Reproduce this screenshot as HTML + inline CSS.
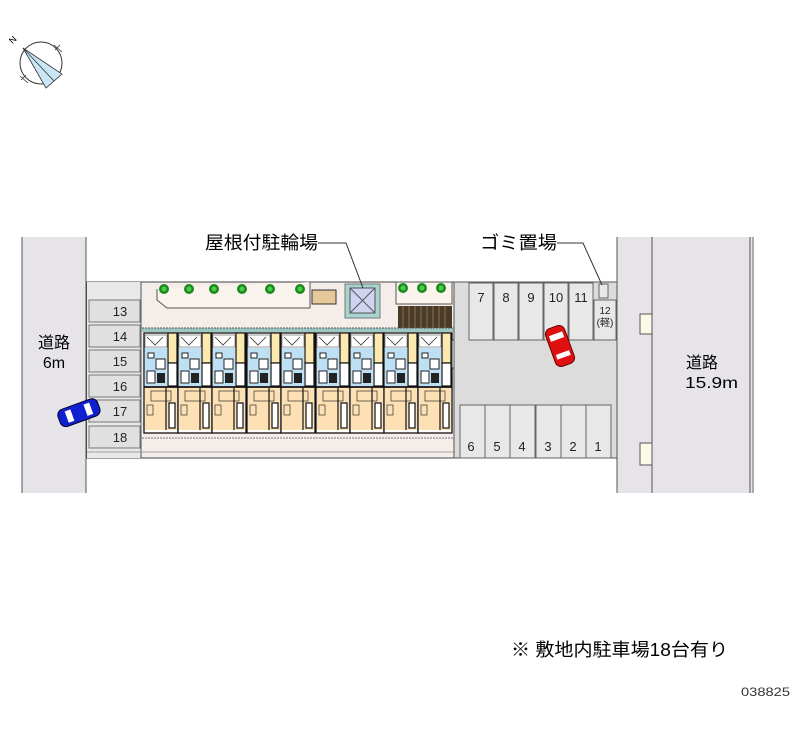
<!DOCTYPE html>
<html><head><meta charset="utf-8"><style>
html,body{margin:0;padding:0;background:#fff;}
body{width:800px;height:727px;overflow:hidden;}
text{font-family:"Liberation Sans","Noto Sans CJK JP",sans-serif;}
</style></head><body>
<svg width="800" height="727" viewBox="0 0 800 727" xmlns="http://www.w3.org/2000/svg">
<defs>
<g id="unit">
 <rect x="0" y="0" width="34" height="100" fill="#fff" stroke="#111" stroke-width="1.3"/>
 <rect x="1" y="2" width="22" height="12" fill="#fff" stroke="#555" stroke-width="0.6"/>
 <path d="M3,4 L11,12 L19,4" stroke="#333" fill="none" stroke-width="0.8"/>
 <rect x="24" y="0" width="9" height="30" fill="#fbe9b0" stroke="#111" stroke-width="1.2"/>
 <rect x="1" y="15" width="22" height="38" fill="#bde0f4"/>
 <rect x="4" y="20" width="6" height="5" fill="#fff" stroke="#222" stroke-width="1"/>
 <rect x="12" y="26" width="9" height="10" fill="#fff" stroke="#222" stroke-width="1"/>
 <rect x="3" y="38" width="8" height="12" fill="#fff" stroke="#222" stroke-width="1"/>
 <rect x="13" y="40" width="8" height="10" fill="#222"/>
 <rect x="24" y="30" width="9" height="23" fill="#fff" stroke="#111" stroke-width="1.2"/>
 <rect x="1" y="55" width="32" height="42" fill="#fde0b4"/>
 <line x1="0" y1="54" x2="34" y2="54" stroke="#111" stroke-width="1.8"/>
 <rect x="7" y="58" width="20" height="10" fill="none" stroke="#333" stroke-width="0.7"/>
 <rect x="3" y="72" width="6" height="10" fill="none" stroke="#333" stroke-width="0.7"/>
 <rect x="25" y="70" width="6" height="25" fill="#fff" stroke="#111" stroke-width="1.2"/>
 <line x1="22" y1="55" x2="22" y2="97" stroke="#111" stroke-width="1.2"/>
</g>
<g id="tree"><circle r="5" fill="#1a8a1a"/><circle r="2.5" fill="#4ccc4c"/></g>
</defs>

<!-- compass -->
<circle cx="41" cy="63" r="21" fill="#fff" stroke="#333" stroke-width="1"/>
<path d="M23,48 L62,74 L46,88 Z" fill="#c8e6f4" stroke="#333" stroke-width="0.8"/>
<line x1="23" y1="48" x2="54" y2="81" stroke="#333" stroke-width="0.8"/>
<g stroke="#333" stroke-width="0.8"><path d="M54,45 L62,52 M20,76 L28,83 M55,50 L60,45 M21,80 L26,75"/></g>
<text x="10" y="42" font-size="9" transform="rotate(-45 14 40)">N</text>

<!-- left road -->
<rect x="22" y="237" width="64" height="256" fill="#e6e4e8"/>
<line x1="22" y1="237" x2="22" y2="493" stroke="#555" stroke-width="1"/>
<line x1="86" y1="237" x2="86" y2="493" stroke="#555" stroke-width="1"/>
<text x="54" y="348" font-size="16" text-anchor="middle">道路</text>
<text x="54" y="368" font-size="16" text-anchor="middle">6m</text>

<!-- right road -->
<rect x="617" y="237" width="135" height="256" fill="#e6e4e8"/>
<line x1="617" y1="237" x2="617" y2="493" stroke="#555"/>
<line x1="652" y1="237" x2="652" y2="493" stroke="#555"/>
<line x1="750" y1="237" x2="750" y2="493" stroke="#555"/>
<line x1="753" y1="237" x2="753" y2="493" stroke="#555"/>
<rect x="640" y="314" width="12" height="20" fill="#fafae8" stroke="#555"/>
<rect x="640" y="443" width="12" height="22" fill="#fafae8" stroke="#555"/>
<text x="702" y="368" font-size="16" text-anchor="middle">道路</text>
<text x="685" y="388" font-size="16" textLength="53" lengthAdjust="spacingAndGlyphs">15.9m</text>

<!-- site -->
<rect x="87" y="282" width="530" height="176" fill="#f5ede9" stroke="#444" stroke-width="1"/>
<rect x="87" y="282" width="54" height="176" fill="#e8e8e8"/>
<g fill="#e0e0e0" stroke="#777" stroke-width="1">
<rect x="89" y="300" width="51" height="22"/><rect x="89" y="325" width="51" height="22"/>
<rect x="89" y="350" width="51" height="22"/><rect x="89" y="375" width="51" height="22"/>
<rect x="89" y="400" width="51" height="22"/><rect x="89" y="426" width="51" height="22"/>
</g>
<g font-size="13" fill="#222" text-anchor="middle">
<text x="120" y="316">13</text><text x="120" y="341">14</text><text x="120" y="366">15</text>
<text x="120" y="391">16</text><text x="120" y="416">17</text><text x="120" y="442">18</text>
</g>
<line x1="141" y1="282" x2="141" y2="458" stroke="#555"/>
<line x1="87" y1="452" x2="617" y2="452" stroke="#888" stroke-width="0.8"/>

<!-- top planting / bike -->
<path d="M157,289 L157,300 L167,308 L310,308 L310,282" fill="#fbf4ee" stroke="#555"/>
<use href="#tree" x="164" y="289"/><use href="#tree" x="189" y="289"/><use href="#tree" x="214" y="289"/>
<use href="#tree" x="242" y="289"/><use href="#tree" x="270" y="289"/><use href="#tree" x="300" y="289"/>
<rect x="312" y="290" width="24" height="14" fill="#e6c89a" stroke="#333"/>
<rect x="345" y="284" width="35" height="34" fill="#a8d4d0" stroke="#777"/>
<rect x="350" y="288" width="25" height="25" fill="#d0d4f0" stroke="#555"/>
<path d="M350,288 L375,313 M375,288 L350,313" stroke="#555"/>
<rect x="396" y="282" width="56" height="22" fill="#fbf4ee" stroke="#555"/>
<use href="#tree" x="403" y="288"/><use href="#tree" x="422" y="288"/><use href="#tree" x="441" y="288"/>
<rect x="398" y="306" width="54" height="22" fill="#4a3a2a"/>
<g stroke="#a08050" stroke-width="0.8">
<line x1="403" y1="306" x2="403" y2="328"/><line x1="409" y1="306" x2="409" y2="328"/><line x1="415" y1="306" x2="415" y2="328"/><line x1="421" y1="306" x2="421" y2="328"/><line x1="427" y1="306" x2="427" y2="328"/><line x1="433" y1="306" x2="433" y2="328"/><line x1="439" y1="306" x2="439" y2="328"/><line x1="445" y1="306" x2="445" y2="328"/>
</g>

<!-- building -->
<rect x="142" y="328" width="312" height="4" fill="#9cc8c4"/>
<line x1="142" y1="328" x2="454" y2="328" stroke="#555" stroke-dasharray="2,1"/>
<line x1="142" y1="438" x2="454" y2="438" stroke="#777" stroke-dasharray="2,1"/>
<use href="#unit" x="144" y="333"/><use href="#unit" x="178" y="333"/><use href="#unit" x="212" y="333"/>
<use href="#unit" x="247" y="333"/><use href="#unit" x="281" y="333"/><use href="#unit" x="316" y="333"/>
<use href="#unit" x="350" y="333"/><use href="#unit" x="384" y="333"/><use href="#unit" x="418" y="333"/>
<rect x="452" y="340" width="6" height="28" fill="#fff" stroke="#333"/>

<!-- right parking lot -->
<rect x="454" y="282" width="163" height="176" fill="#dcdcdc" stroke="#555"/>
<g fill="#e8e8e8" stroke="#666">
<rect x="469" y="283" width="24" height="57"/><rect x="494" y="283" width="24" height="57"/>
<rect x="519" y="283" width="24" height="57"/><rect x="544" y="283" width="24" height="57"/>
<rect x="569" y="283" width="24" height="57"/><rect x="594" y="300" width="22" height="40"/>
<rect x="599" y="284" width="9" height="14"/>
<rect x="460" y="405" width="25" height="53"/><rect x="485" y="405" width="25" height="53"/>
<rect x="510" y="405" width="25" height="53"/><rect x="536" y="405" width="25" height="53"/>
<rect x="561" y="405" width="25" height="53"/><rect x="586" y="405" width="25" height="53"/>
</g>
<g font-size="13" fill="#222" text-anchor="middle">
<text x="481" y="302">7</text><text x="506" y="302">8</text><text x="531" y="302">9</text>
<text x="556" y="302">10</text><text x="581" y="302">11</text>
<text x="605" y="314" font-size="10">12</text><text x="605" y="326" font-size="10">(軽)</text>
<text x="471" y="451">6</text><text x="497" y="451">5</text><text x="522" y="451">4</text>
<text x="548" y="451">3</text><text x="573" y="451">2</text><text x="598" y="451">1</text>
</g>

<!-- cars -->
<g transform="rotate(-20 560 346)">
<rect x="550" y="326" width="20" height="40" rx="6" fill="#e01010" stroke="#600" stroke-width="1"/>
<rect x="553" y="333" width="14" height="6" fill="#fff"/><rect x="553" y="353" width="14" height="5" fill="#fff"/>
</g>
<g transform="rotate(-20 78 413)">
<rect x="58" y="404" width="42" height="18" rx="6" fill="#1020d0" stroke="#002" stroke-width="1"/>
<rect x="66" y="407" width="6" height="12" fill="#fff"/><rect x="86" y="407" width="6" height="12" fill="#fff"/>
</g>

<!-- labels -->
<text x="205" y="249" font-size="18" textLength="113" lengthAdjust="spacingAndGlyphs">屋根付駐輪場</text>
<polyline points="318,243 346,243 363,288" fill="none" stroke="#333" stroke-width="1"/>
<text x="480" y="249" font-size="18" textLength="77" lengthAdjust="spacingAndGlyphs">ゴミ置場</text>
<polyline points="557,243 583,243 602,285" fill="none" stroke="#333" stroke-width="1"/>

<text x="511" y="656" font-size="18" textLength="217" lengthAdjust="spacingAndGlyphs">※ 敷地内駐車場18台有り</text>
<text x="741" y="696" font-size="12" textLength="49" lengthAdjust="spacingAndGlyphs" fill="#333">038825</text>
</svg>
</body></html>
